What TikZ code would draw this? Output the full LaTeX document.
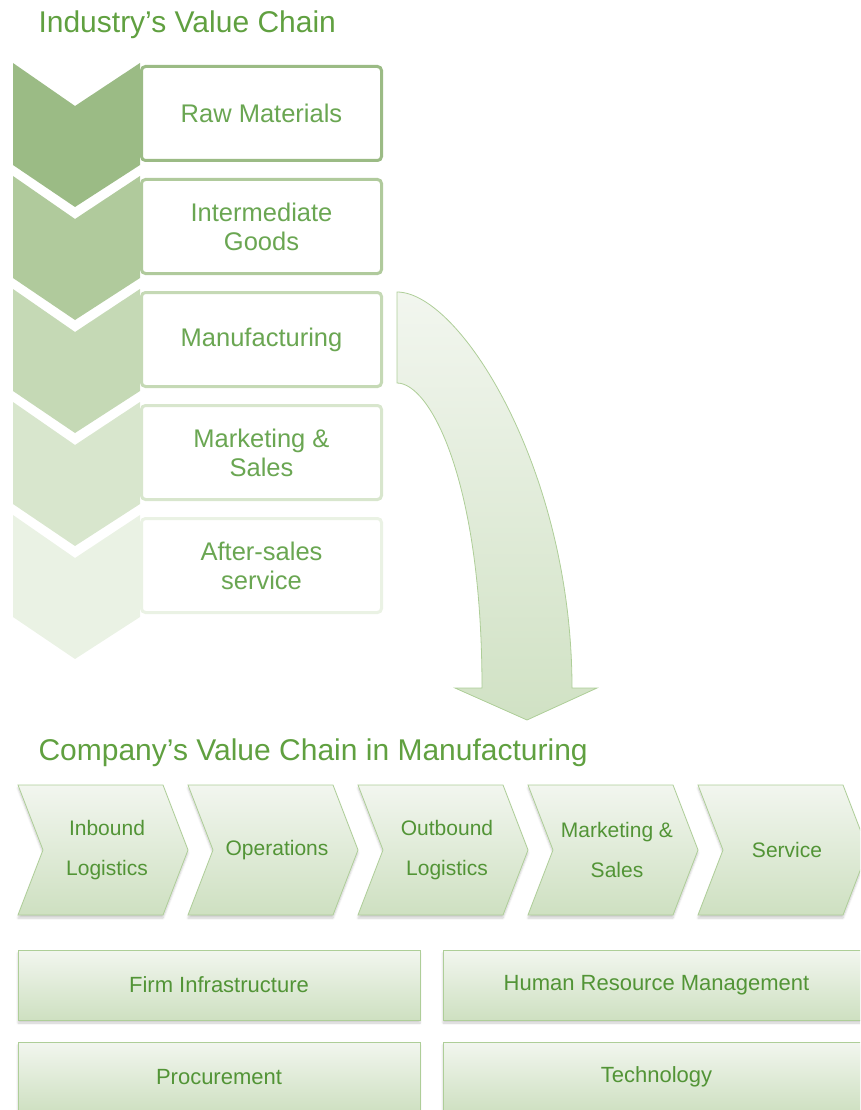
\documentclass[tikz,border=0pt]{standalone}
\usepackage{fontspec}
\setmainfont{Liberation Sans}
\usepackage{xcolor}
\usepackage{tikz}
\usetikzlibrary{positioning, calc, shadows.blur}
\definecolor{vcgreen0}{RGB}{155,187,133}
\definecolor{vcgreen1}{RGB}{176,202,156}
\definecolor{vcgreen2}{RGB}{197,217,181}
\definecolor{vcgreen3}{RGB}{216,230,205}
\definecolor{vcgreen4}{RGB}{234,242,228}
\definecolor{vctitle}{RGB}{96,160,64}
\definecolor{vctext}{RGB}{106,166,82}
\definecolor{vcdark}{RGB}{82,148,54}
\definecolor{vcline}{RGB}{174,206,152}
\definecolor{vctop}{RGB}{242,246,239}
\definecolor{vcbottom}{RGB}{206,224,193}

\begin{document}
\begin{tikzpicture}[x=1pt, y=-1pt,
  title/.style={anchor=base west, text=vctitle, font=\fontsize{30}{36}\selectfont},
  stagebox/.style={draw, line width=3pt, rounded corners=4pt, fill=white,
    minimum width=240pt, minimum height=94pt, align=center, text=vctext,
    font=\fontsize{25.5}{29}\selectfont},
  chevfill/.style={draw=vcline, line width=0.8pt, top color=vctop, bottom color=vcbottom,
    blur shadow={shadow xshift=0pt, shadow yshift=-3pt, shadow opacity=20, shadow blur steps=6}},
  chevtext/.style={align=center, text=vcdark, font=\fontsize{21}{40}\selectfont},
  supportbox/.style={draw=vcline, line width=0.8pt, top color=vctop, bottom color=vcbottom,
    minimum width=402pt, minimum height=70pt, text=vcdark, font=\fontsize{22}{26}\selectfont,
    blur shadow={shadow xshift=0pt, shadow yshift=-3pt, shadow opacity=20, shadow blur steps=6}}]
\useasboundingbox (0,0) rectangle (860,1110);
\clip (0,0) rectangle (860,1110);

% Industry chain
\node[title] (industry) at (35,33) {Industry’s Value Chain};
\foreach \i/\name/\txt in {0/raw/Raw Materials, 1/inter/{Intermediate\\Goods},
    2/manuf/Manufacturing, 3/mksales/{Marketing \&\\Sales}, 4/after/{After-sales\\service}}{
  \pgfmathsetmacro{\t}{63+113*\i}
  \fill[vcgreen\i] (13,\t) -- (75,\t+43) -- (140,\t) -- (140,\t+102) -- (75,\t+144) -- (13,\t+102) -- cycle;
  \node[stagebox, draw=vcgreen\i] (\name) at (261.5,\t+50.5) {\txt};
}

% Curved arrow down to the company chain
\shadedraw[top color=vctop, bottom color=vcbottom!95!white, draw=vcline, line width=0.8pt]
  (397,292) .. controls (460,292) and (572,470) .. (572,688) -- (597,688) -- (527,720)
  -- (455,688) -- (482,688) .. controls (482,480) and (430,383) .. (397,383) -- cycle;

% Company chain
\node[title] (company) at (35,760) {Company’s Value Chain in Manufacturing};
\foreach \x/\name/\txt in {18/inbound/{Inbound\\Logistics}, 188/ops/Operations,
    358/outbound/{Outbound\\Logistics}, 528/mkt/{Marketing \&\\Sales}, 698/service/Service}{
  \shadedraw[chevfill] (\x,785) -- (\x+145,785) -- (\x+170,850) -- (\x+145,915)
    -- (\x,915) -- (\x+25,850) -- cycle;
  \node[chevtext] (\name) at (\x+89,850) {\txt};
}

% Support activities
\node[supportbox] (firm) at (219,985) {Firm Infrastructure};
\node[supportbox, minimum width=427pt] (hrm) at (656.5,985) {Human Resource Management};
\node[supportbox] (proc) at (219,1077) {Procurement};
\node[supportbox, minimum width=427pt] (tech) at (656.5,1077) {Technology};
\end{tikzpicture}
\end{document}
